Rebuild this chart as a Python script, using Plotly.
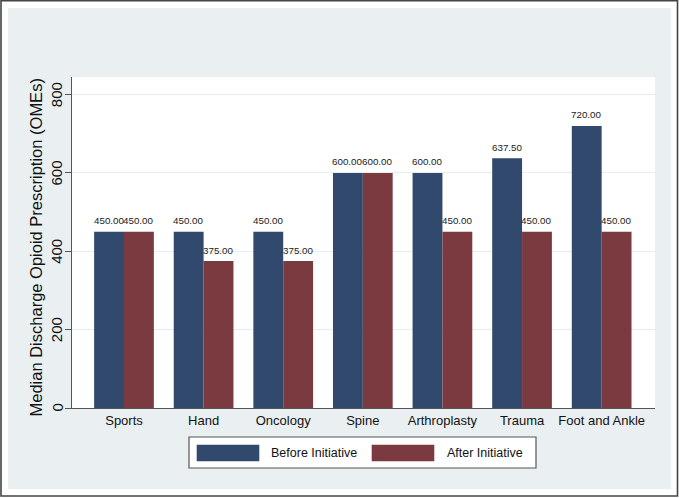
import plotly.graph_objects as go

categories = ["Sports", "Hand", "Oncology", "Spine", "Arthroplasty", "Trauma", "Foot and Ankle"]
before = [450.0, 450.0, 450.0, 600.0, 600.0, 637.5, 720.0]
after = [450.0, 375.0, 375.0, 600.0, 450.0, 450.0, 450.0]
series_names = ["Before Initiative", "After Initiative"]
y_ticks = [0, 200, 400, 600, 800]

BLUE = "#30496D"
RED = "#7B3A40"
BG = "#EAF0F2"
FONT = "Liberation Sans, Arial, Helvetica, sans-serif"

W, H = 679, 498
L, R, T, B = 72, 24, 77, 90
PW, PH = W - L - R, H - T - B
X_RANGE = [-0.653, 6.67]
BARGAP = 0.25


def px(x):
    return (x - L) / PW


def py(y):
    return (H - B - y) / PH


fig = go.Figure()
for name, vals, col in [(series_names[0], before, BLUE), (series_names[1], after, RED)]:
    fig.add_trace(go.Bar(
        x=categories, y=vals, name=name,
        marker=dict(color=col, line=dict(width=0)),
        showlegend=False, hoverinfo="x+y+name",
    ))

# value labels above the bars (positioned via data coordinates)
cat_px = PW / (X_RANGE[1] - X_RANGE[0])
half_bar = cat_px * (1 - BARGAP) / 4
annotations = []
for sign, vals in [(-1, before), (1, after)]:
    for c, v in zip(categories, vals):
        annotations.append(dict(
            x=c, y=v, xref="x", yref="y", text=f"{v:.2f}", showarrow=False,
            xanchor="center", yanchor="middle", xshift=sign * half_bar, yshift=11,
            font=dict(size=9.8, color="#222222", family=FONT),
        ))

# rotated y tick labels (Stata style), placed at the tick values
for t in y_ticks:
    annotations.append(dict(
        x=px(56.5), y=t, xref="paper", yref="y", text=str(t), showarrow=False,
        textangle=-90, xanchor="center", yanchor="middle",
        font=dict(size=15, color="#111111", family=FONT),
    ))

shapes = [
    dict(type="rect", xref="paper", yref="paper", x0=px(8), x1=px(671), y0=py(489), y1=py(8),
         fillcolor=BG, line=dict(width=0), layer="below"),
    dict(type="rect", xref="paper", yref="paper", x0=0, x1=1, y0=0, y1=1,
         fillcolor="white", line=dict(width=0), layer="below"),
    dict(type="rect", xref="paper", yref="paper", x0=px(1), x1=px(677.5), y0=py(496), y1=py(0.8),
         fillcolor="rgba(0,0,0,0)", line=dict(color="#444444", width=1.6), layer="above"),
    dict(type="rect", xref="paper", yref="paper", x0=px(189), x1=px(536), y0=py(468), y1=py(437),
         fillcolor="white", line=dict(color="#555555", width=1.2), layer="above"),
    dict(type="rect", xref="paper", yref="paper", x0=px(196.7), x1=px(259.3), y0=py(461.3), y1=py(444.7),
         fillcolor=BLUE, line=dict(width=0), layer="above"),
    dict(type="rect", xref="paper", yref="paper", x0=px(371.7), x1=px(434.3), y0=py(461.3), y1=py(444.7),
         fillcolor=RED, line=dict(width=0), layer="above"),
]

annotations += [
    dict(text="Median Discharge Opioid Prescription (OMEs)", xref="paper", yref="paper",
         x=px(35), y=py(247.5), textangle=-90, showarrow=False, xanchor="center", yanchor="middle",
         font=dict(size=16.5, color="#111111", family=FONT)),
    dict(text=series_names[0], xref="paper", yref="paper", x=px(269), y=py(453),
         xanchor="left", yanchor="middle", showarrow=False,
         font=dict(size=12.5, color="#111111", family=FONT)),
    dict(text=series_names[1], xref="paper", yref="paper", x=px(445), y=py(453),
         xanchor="left", yanchor="middle", showarrow=False,
         font=dict(size=12.5, color="#111111", family=FONT)),
]

fig.update_layout(
    width=W, height=H,
    margin=dict(l=L, r=R, t=T, b=B, autoexpand=False),
    paper_bgcolor="white", plot_bgcolor="white",
    barmode="group", bargap=BARGAP, bargroupgap=0,
    font=dict(family=FONT, color="#111111"),
    shapes=shapes, annotations=annotations,
    showlegend=False,
    xaxis=dict(
        type="category", range=X_RANGE,
        showline=True, linecolor="#555555", linewidth=1.2,
        ticks="", showgrid=False, zeroline=False,
        tickfont=dict(size=13, color="#111111", family=FONT),
    ),
    yaxis=dict(
        range=[0, 845], tickvals=y_ticks, showticklabels=False,
        ticks="outside", ticklen=6, tickcolor="#555555", tickwidth=1,
        showline=True, linecolor="#555555", linewidth=1.2,
        showgrid=True, gridcolor="#E6EDEF", gridwidth=1, zeroline=False,
    ),
)

fig.write_html("out.html", config={"displayModeBar": False},
               post_script="document.body.style.margin='0';document.body.style.padding='0';")
